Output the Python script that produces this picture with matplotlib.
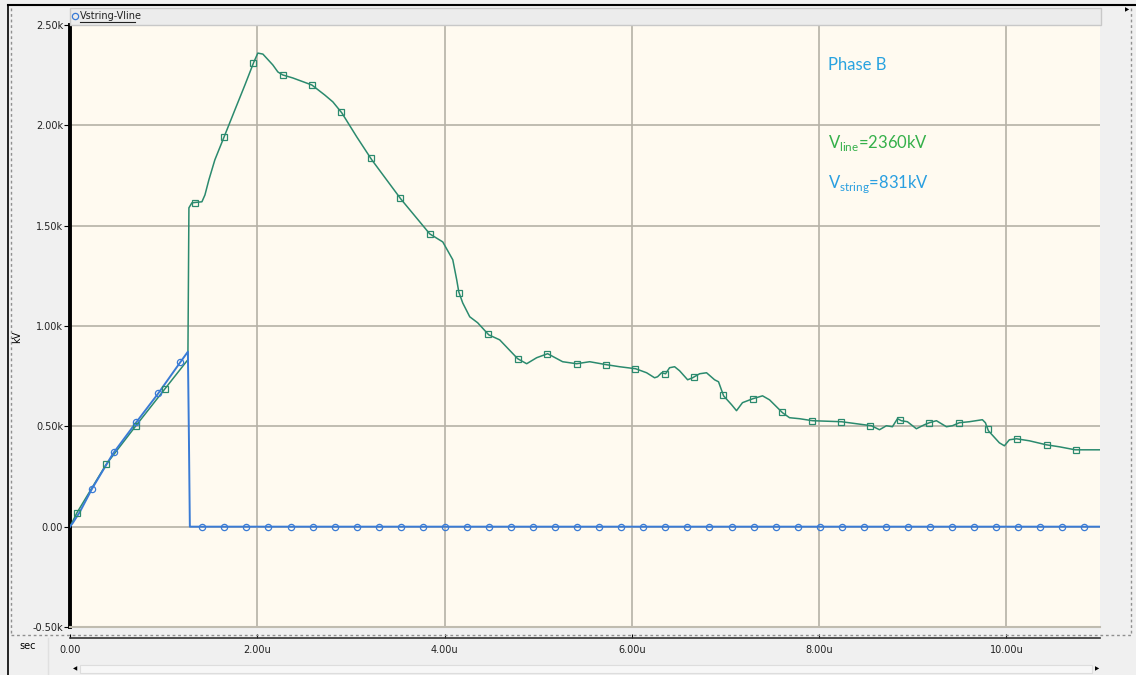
import numpy as np
import matplotlib
matplotlib.use("Agg")
import matplotlib.pyplot as plt
from matplotlib.lines import Line2D
from matplotlib.patches import Rectangle

# Vline (green) waveform, time in us, value in kV
vline_t = [0.000, 0.075, 0.384, 0.704, 1.014, 1.259, 1.270, 1.302, 1.409, 1.441,
           1.483, 1.547, 1.654, 1.761, 1.868, 1.964, 2.006, 2.060, 2.166, 2.220,
           2.273, 2.380, 2.583, 2.721, 2.807, 2.903, 3.063, 3.223, 3.533, 3.842,
           3.981, 4.088, 4.130, 4.152, 4.194, 4.269, 4.354, 4.472, 4.589, 4.781,
           4.877, 4.984, 5.101, 5.261, 5.411, 5.550, 5.731, 5.870, 6.041, 6.158,
           6.243, 6.275, 6.318, 6.361, 6.403, 6.457, 6.510, 6.596, 6.649, 6.724,
           6.798, 6.884, 6.926, 6.980, 7.065, 7.118, 7.182, 7.289, 7.396, 7.471,
           7.609, 7.684, 7.791, 7.930, 8.239, 8.559, 8.645, 8.719, 8.783, 8.837,
           8.879, 8.943, 9.039, 9.125, 9.178, 9.253, 9.360, 9.424, 9.498, 9.605,
           9.744, 9.776, 9.808, 9.925, 9.979, 10.032, 10.107, 10.245, 10.427, 10.566,
           10.736, 11.000]
vline_v = [0, 70, 309, 503, 687, 832, 1589, 1614, 1619, 1653,
           1728, 1828, 1952, 2077, 2201, 2316, 2360, 2355, 2301, 2266,
           2251, 2236, 2201, 2151, 2117, 2062, 1942, 1828, 1633, 1459,
           1419, 1330, 1230, 1170, 1115, 1046, 1016, 956, 931, 837,
           812, 842, 862, 822, 812, 822, 807, 797, 787, 767,
           742, 747, 767, 762, 792, 797, 777, 732, 742, 762,
           767, 732, 722, 652, 608, 578, 618, 637, 652, 632,
           568, 543, 538, 528, 523, 503, 483, 503, 498, 538,
           528, 523, 488, 508, 518, 528, 498, 503, 518, 523,
           533, 518, 478, 418, 403, 433, 438, 428, 408, 398,
           383, 383]

# Vstring (blue) waveform
vstr_t = [0.000, 0.032, 0.107, 0.235, 0.459, 0.704, 0.939, 1.174, 1.259, 1.270, 1.280, 11.000]
vstr_v = [0, 20, 75, 189, 364, 518, 662, 817, 872, 443, 0, 0]

yticks = [-500, 0, 500, 1000, 1500, 2000, 2500]
ylabels = ["-0.50k", "0.00", "0.50k", "1.00k", "1.50k", "2.00k", "2.50k"]
xticks = [0, 2, 4, 6, 8, 10]
xlabels = ["0.00", "2.00u", "4.00u", "6.00u", "8.00u", "10.00u"]

W, H = 1136, 675
def fx(x):
    return x / W
def fy(y):
    return 1 - y / H

plt.rcParams['font.family'] = ['Lato', 'DejaVu Sans']
plt.rcParams['mathtext.fontset'] = 'custom'
plt.rcParams['mathtext.rm'] = 'Lato'

fig = plt.figure(figsize=(W / 100, H / 100), dpi=100)
fig.patch.set_facecolor('#f0f0f0')

ax = fig.add_axes([fx(70), fy(627), fx(1100) - fx(70), fy(25) - fy(627)])
ax.set_facecolor('#fffaf0')
ax.set_xlim(0, 11)
ax.set_ylim(-500, 2500)
ax.set_yticks(yticks)
ax.set_yticklabels(ylabels, fontsize=7, color='#222222', family='DejaVu Sans')
ax.set_xticks(xticks)
ax.tick_params(axis='x', length=0, labelbottom=False)
ax.tick_params(axis='y', length=4, width=0.8, pad=1)
ax.grid(True, color='#b5b1a6', lw=1.2)
ax.set_axisbelow(True)
for s in ['top', 'right']:
    ax.spines[s].set_visible(False)
ax.spines['bottom'].set_color('#c0bcb0')
ax.spines['bottom'].set_linewidth(1.5)
ax.spines['left'].set_color('black')
ax.spines['left'].set_linewidth(2.8)
fig.text(fx(17), fy(337), 'kV', fontsize=7, rotation=90, ha='center', va='center',
         family='DejaVu Sans')

# lines
ax.plot(vline_t, vline_v, color='#2b8a6e', lw=1.1, zorder=3)
ax.plot(vstr_t, vstr_v, color='#3a7bd5', lw=1.4, zorder=4)

# markers placed at regular sample times along each trace
gm_t = 0.075 + 0.3138 * np.arange(0, 35)
ax.plot(gm_t, np.interp(gm_t, vline_t, vline_v), ls='none', marker='s', ms=4.5,
        mfc='none', mec='#2b8a6e', mew=0.9, zorder=5)
bm_t = 0.2355 * np.arange(1, 47)
ax.plot(bm_t, np.interp(bm_t, vstr_t, vstr_v), ls='none', marker='o', ms=4.5,
        mfc='none', mec='#3a7bd5', mew=0.9, zorder=5)

# annotations
ax.text(8.09, 2300, 'Phase B', color='#29a3e0', fontsize=12, ha='left', va='center')
ax.text(8.09, 1910, r'V$_{\mathrm{line}}$=2360kV', color='#35b04a', fontsize=12,
        ha='left', va='center')
ax.text(8.09, 1705, r'V$_{\mathrm{string}}$=831kV', color='#2a9fe0', fontsize=12,
        ha='left', va='center')

# x axis strip
axx = fig.add_axes([fx(70), fy(638), fx(1100) - fx(70), 0.0001])
axx.set_xlim(0, 11)
axx.set_yticks([])
axx.set_xticks(xticks)
axx.set_xticklabels(xlabels, fontsize=7, color='#222222', family='DejaVu Sans')
axx.tick_params(axis='x', length=3, width=0.8, direction='in', pad=5)
axx.patch.set_visible(False)
for s in ['top', 'left', 'right']:
    axx.spines[s].set_visible(False)
axx.spines['bottom'].set_color('#333333')
axx.spines['bottom'].set_linewidth(1.2)
fig.text(fx(28), fy(646), 'sec', fontsize=7, ha='center', va='center', family='DejaVu Sans')

# legend bar
fig.add_artist(Rectangle((fx(70), fy(25)), fx(1101) - fx(70), fy(8) - fy(25),
                         transform=fig.transFigure, facecolor='#ececec',
                         edgecolor='#c8c8c8', lw=1))
fig.add_artist(Line2D([fx(75)], [fy(16)], transform=fig.transFigure, marker='o',
                      ms=4.5, mfc='none', mec='#3a7bd5', mew=0.9))
fig.text(fx(80), fy(16), 'Vstring-Vline', fontsize=7, ha='left', va='center',
         color='#222222', family='DejaVu Sans')
fig.add_artist(Line2D([fx(80), fx(135)], [fy(22), fy(22)], transform=fig.transFigure,
                      color='#222222', lw=0.8))

# frame lines
fig.add_artist(Line2D([fx(8), fx(1136)], [fy(5), fy(5)], transform=fig.transFigure,
                      color='black', lw=1.5))
fig.add_artist(Line2D([fx(8), fx(8)], [fy(5), fy(675)], transform=fig.transFigure,
                      color='black', lw=1.2))
fig.add_artist(Line2D([fx(11), fx(11)], [fy(8), fy(635)], transform=fig.transFigure,
                      color='#909090', lw=1, ls=(0, (2, 2))))
fig.add_artist(Line2D([fx(1131), fx(1131)], [fy(8), fy(635)], transform=fig.transFigure,
                      color='#909090', lw=1, ls=(0, (2, 2))))
fig.add_artist(Line2D([fx(11), fx(1131)], [fy(635), fy(635)], transform=fig.transFigure,
                      color='#909090', lw=1, ls=(0, (2, 2))))
fig.add_artist(Line2D([fx(48), fx(48)], [fy(638), fy(675)], transform=fig.transFigure,
                      color='#e0e0e0', lw=1))

# scrollbar
fig.add_artist(Rectangle((fx(80), fy(673)), fx(1092) - fx(80), fy(665) - fy(673),
                         transform=fig.transFigure, facecolor='#f7f7f7',
                         edgecolor='#dddddd', lw=0.8))
fig.text(fx(75), fy(669), '\u25c0', fontsize=4, ha='center', va='center', family='DejaVu Sans')
fig.text(fx(1097), fy(669), '\u25b6', fontsize=4, ha='center', va='center', family='DejaVu Sans')
fig.text(fx(1127), fy(10), '\u25b6', fontsize=4, ha='center', va='center', family='DejaVu Sans')

fig.savefig('out.png', dpi=100, facecolor=fig.get_facecolor())
